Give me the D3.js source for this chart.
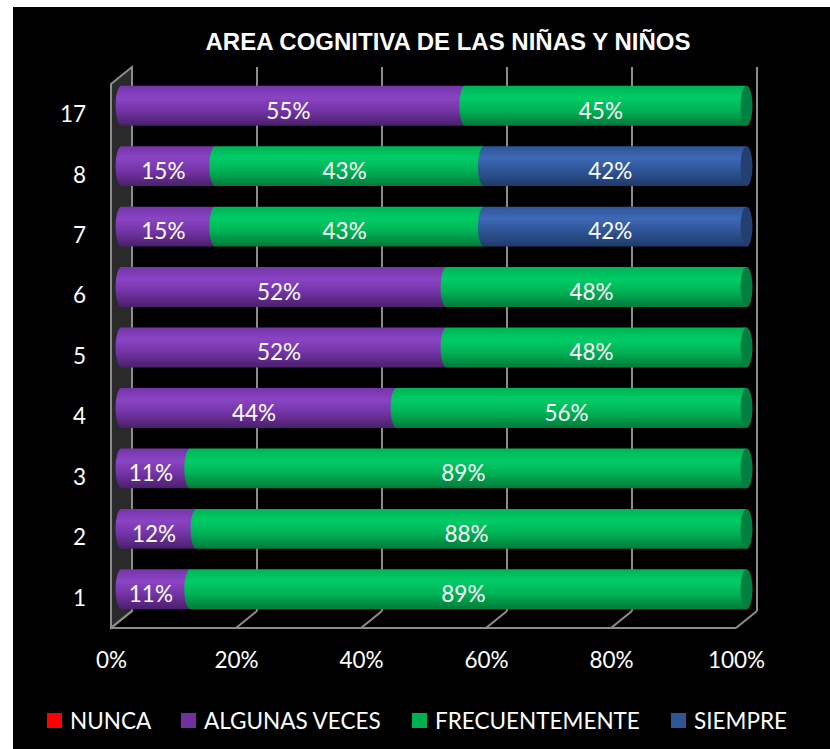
<!DOCTYPE html>
<html>
<head>
<meta charset="utf-8">
<script src="https://cdn.jsdelivr.net/npm/d3@7"></script>
<style>
  body { margin: 0; background: #fff; }
  text { font-family: Lato, "Open Sans", sans-serif; fill: #fff; }
</style>
</head>
<body>
<script>
// Data (bottom to top, as in the chart)
var categories = ['1', '2', '3', '4', '5', '6', '7', '8', '17'];
var nunca = [0, 0, 0, 0, 0, 0, 0, 0, 0];
var algunasVeces = [11, 12, 11, 44, 52, 52, 15, 15, 55];
var frecuentemente = [89, 88, 89, 56, 48, 48, 43, 43, 45];
var siempre = [0, 0, 0, 0, 0, 0, 42, 42, 0];
var seriesNames = ['NUNCA', 'ALGUNAS VECES', 'FRECUENTEMENTE', 'SIEMPRE'];
var xTicks = [0, 20, 40, 60, 80, 100];

var colors = {
	'NUNCA': { light: '#ff3030', mid: '#e00000', dark: '#900000', cap: '#a00000', legend: '#ff0000' },
	'ALGUNAS VECES': { light: '#8a44c4', mid: '#7535a8', dark: '#4a1f6b', cap: '#55237a', legend: '#7030a0' },
	'FRECUENTEMENTE': { light: '#00cc66', mid: '#00b456', dark: '#007a3a', cap: '#008040', legend: '#00b050' },
	'SIEMPRE': { light: '#3e69b6', mid: '#2f5597', dark: '#1f3a6a', cap: '#243f72', legend: '#2f5597' }
};

var W = 830, H = 749;
var depth = { dx: -21, dy: 17 }; // back wall -> front edge

var svg = d3.select('body').append('svg').attr('width', W).attr('height', H);

// black chart area
svg.append('rect').attr('x', 13).attr('y', 7).attr('width', W - 13).attr('height', H - 7).attr('fill', '#000');

var defs = svg.append('defs');
seriesNames.forEach((s, i) => {
	var c = colors[s];
	var g = defs.append('linearGradient').attr('id', 'grad' + i)
		.attr('x1', 0).attr('y1', 0).attr('x2', 0).attr('y2', 1);
	g.append('stop').attr('offset', '0%').attr('stop-color', c.mid);
	g.append('stop').attr('offset', '30%').attr('stop-color', c.light);
	g.append('stop').attr('offset', '60%').attr('stop-color', c.mid);
	g.append('stop').attr('offset', '100%').attr('stop-color', c.dark);
});

// Scales on the back wall
var x = d3.scaleLinear().domain([0, 100]).range([132, 757]);
var y = d3.scaleBand().domain(categories.slice().reverse()).range([67, 611]).paddingInner(0.34).paddingOuter(0.17);

// Title
svg.append('text')
	.attr('x', 448).attr('y', 50)
	.attr('text-anchor', 'middle')
	.style('font-family', '"Liberation Sans", Arial, sans-serif')
	.style('font-weight', 'bold')
	.style('font-size', '24px')
	.text('AREA COGNITIVA DE LAS NIÑAS Y NIÑOS');

var wallColor = '#8c8c8c';
var y0 = 67, y1 = 611;

// side wall (left)
svg.append('path')
	.attr('d', 'M' + x(0) + ',' + y0 + 'L' + (x(0) + depth.dx) + ',' + (y0 + depth.dy) +
		'L' + (x(0) + depth.dx) + ',' + (y1 + depth.dy) + 'L' + x(0) + ',' + y1 + 'Z')
	.attr('fill', '#2a2a2a')
	.attr('stroke', wallColor).attr('stroke-width', 2);

// back wall gridlines
svg.append('g').selectAll('line').data(xTicks).enter().append('line')
	.attr('x1', d => x(d)).attr('x2', d => x(d))
	.attr('y1', y0).attr('y2', y1)
	.attr('stroke', wallColor).attr('stroke-width', 2);

// floor lines
svg.append('g').selectAll('line').data(xTicks).enter().append('line')
	.attr('x1', d => x(d)).attr('y1', y1)
	.attr('x2', d => x(d) + depth.dx).attr('y2', y1 + depth.dy)
	.attr('stroke', wallColor).attr('stroke-width', 2);
svg.append('line')
	.attr('x1', x(0) + depth.dx).attr('x2', x(100) + depth.dx)
	.attr('y1', y1 + depth.dy).attr('y2', y1 + depth.dy)
	.attr('stroke', wallColor).attr('stroke-width', 2);

// Stack the series
var rows = categories.map((c, i) => ({
	cat: c,
	'NUNCA': nunca[i],
	'ALGUNAS VECES': algunasVeces[i],
	'FRECUENTEMENTE': frecuentemente[i],
	'SIEMPRE': siempre[i]
}));
var stacked = d3.stack().keys(seriesNames)(rows);

// bars sit half way in the depth
var bars = svg.append('g')
	.attr('transform', 'translate(' + depth.dx / 2 + ',' + depth.dy / 2 + ')');

var rx = 6;
function cylinder(x0, x1, yc, r) {
	return 'M' + x0 + ',' + (yc - r) + 'L' + x1 + ',' + (yc - r) +
		'L' + x1 + ',' + (yc + r) + 'L' + x0 + ',' + (yc + r) +
		'A' + rx + ',' + r + ' 0 0 1 ' + x0 + ',' + (yc - r) + 'Z';
}

var segs = [];
stacked.forEach((s, si) => {
	s.forEach(d => {
		if (d[1] - d[0] > 0) segs.push({ key: s.key, si: si, cat: d.data.cat, x0: d[0], x1: d[1], v: d[1] - d[0] });
	});
});

bars.selectAll('path.seg').data(segs).enter().append('path')
	.attr('class', 'seg')
	.attr('d', d => cylinder(x(d.x0), x(d.x1), y(d.cat) + y.bandwidth() / 2, y.bandwidth() / 2))
	.attr('fill', d => 'url(#grad' + d.si + ')');

// end caps
var ends = segs.filter(d => d.x1 >= 100);
bars.selectAll('ellipse.cap').data(ends).enter().append('ellipse')
	.attr('class', 'cap')
	.attr('cx', d => x(d.x1)).attr('cy', d => y(d.cat) + y.bandwidth() / 2)
	.attr('rx', rx).attr('ry', y.bandwidth() / 2)
	.attr('fill', d => colors[d.key].cap);

// value labels
bars.selectAll('text.val').data(segs).enter().append('text')
	.attr('class', 'val')
	.attr('x', d => x((d.x0 + d.x1) / 2) - 5)
	.attr('y', d => y(d.cat) + y.bandwidth() / 2 + 5)
	.attr('dy', '0.35em')
	.attr('text-anchor', 'middle')
	.style('font-size', '22.5px')
	.text(d => d.v + '%');

// front plane axes
var front = svg.append('g')
	.attr('transform', 'translate(' + depth.dx + ',' + depth.dy + ')');

var yAxis = front.append('g')
	.attr('transform', 'translate(' + x(0) + ',0)')
	.call(d3.axisLeft(y).tickSize(0).tickPadding(25));
yAxis.select('.domain').remove();
yAxis.selectAll('text').style('font-size', '22.5px').style('font-family', 'Lato, sans-serif').attr('fill', '#fff').attr('dy', '0.35em');

var xAxis = front.append('g')
	.attr('transform', 'translate(0,' + y1 + ')')
	.call(d3.axisBottom(x).tickValues(xTicks).tickSize(0).tickPadding(24).tickFormat(d => d + '%'));
xAxis.select('.domain').remove();
xAxis.selectAll('text').style('font-size', '22.5px').style('font-family', 'Lato, sans-serif').attr('fill', '#fff');

// Legend
var legendX = [47, 181, 412, 671];
var legend = svg.append('g').selectAll('g').data(seriesNames).enter().append('g')
	.attr('transform', (d, i) => 'translate(' + legendX[i] + ',713)');
legend.append('rect').attr('width', 15).attr('height', 15).attr('fill', d => colors[d].legend);
legend.append('text').attr('x', 23).attr('y', 16)
	.style('font-size', '22.5px')
	.text(d => d);
</script>
</body>
</html>
